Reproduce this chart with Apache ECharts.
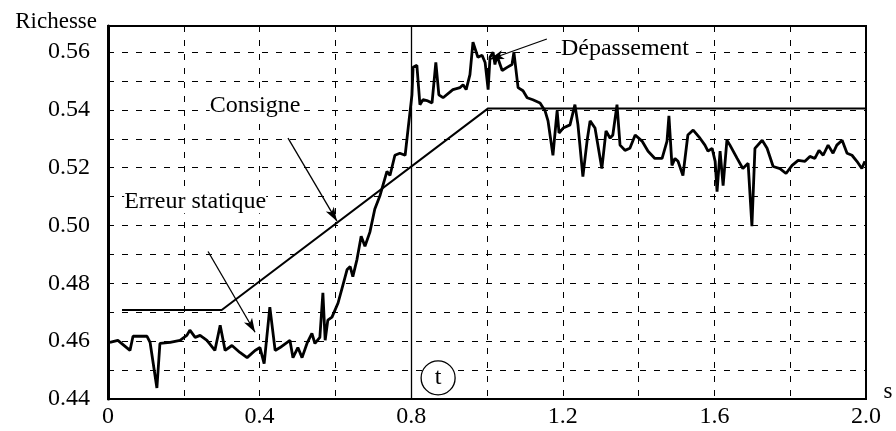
<!DOCTYPE html>
<html><head><meta charset="utf-8">
<script src="https://cdn.jsdelivr.net/npm/echarts@6/dist/echarts.min.js"></script>
<style>html,body{margin:0;padding:0;background:#fff}#c{width:896px;height:431px}</style>
</head><body><div id="c"></div>
<script>
// Time (s) and measured richness
const time = [0.005,0.026,0.058,0.066,0.103,0.111,0.129,0.137,0.164,0.190,0.208,0.216,0.230,0.243,0.261,0.282,0.296,0.309,0.327,0.348,0.367,0.388,0.401,0.412,0.427,0.441,0.454,0.480,0.488,0.501,0.512,0.525,0.538,0.546,0.559,0.567,0.573,0.580,0.591,0.607,0.620,0.631,0.639,0.646,0.657,0.668,0.678,0.691,0.704,0.718,0.736,0.744,0.757,0.770,0.784,0.792,0.802,0.805,0.815,0.823,0.831,0.844,0.855,0.865,0.873,0.884,0.910,0.929,0.937,0.945,0.955,0.963,0.976,0.987,0.995,1.003,1.008,1.016,1.021,1.026,1.040,1.053,1.066,1.071,1.082,1.095,1.106,1.121,1.140,1.153,1.161,1.174,1.185,1.190,1.201,1.219,1.232,1.240,1.253,1.264,1.272,1.285,1.303,1.314,1.325,1.332,1.343,1.351,1.364,1.377,1.391,1.409,1.425,1.443,1.462,1.475,1.480,1.488,1.496,1.504,1.517,1.530,1.544,1.562,1.575,1.583,1.594,1.602,1.607,1.615,1.623,1.633,1.641,1.660,1.675,1.689,1.699,1.707,1.726,1.739,1.755,1.773,1.789,1.805,1.821,1.839,1.852,1.865,1.876,1.887,1.900,1.913,1.923,1.937,1.950,1.963,1.976,1.989,1.997];
const richesse = [0.4596,0.4603,0.4568,0.4617,0.4617,0.4596,0.4438,0.4592,0.4596,0.4603,0.4620,0.4638,0.4613,0.4620,0.4603,0.4568,0.4655,0.4568,0.4585,0.4561,0.4543,0.4568,0.4578,0.4522,0.4718,0.4568,0.4578,0.4603,0.4543,0.4578,0.4543,0.4592,0.4627,0.4592,0.4613,0.4767,0.4603,0.4673,0.4683,0.4732,0.4795,0.4848,0.4858,0.4823,0.4883,0.4963,0.4928,0.4977,0.5057,0.5105,0.5187,0.5173,0.5243,0.5250,0.5243,0.5337,0.5452,0.5547,0.5554,0.5418,0.5435,0.5431,0.5424,0.5564,0.5452,0.5442,0.5470,0.5477,0.5487,0.5470,0.5522,0.5634,0.5582,0.5589,0.5564,0.5470,0.5582,0.5599,0.5557,0.5589,0.5536,0.5547,0.5557,0.5599,0.5477,0.5466,0.5442,0.5435,0.5424,0.5397,0.5362,0.5243,0.5397,0.5320,0.5337,0.5348,0.5418,0.5348,0.5169,0.5292,0.5362,0.5337,0.5197,0.5327,0.5302,0.5313,0.5418,0.5278,0.5260,0.5267,0.5313,0.5292,0.5257,0.5232,0.5232,0.5292,0.5379,0.5208,0.5232,0.5222,0.5173,0.5313,0.5330,0.5302,0.5278,0.5257,0.5267,0.5222,0.5117,0.5257,0.5138,0.5295,0.5278,0.5232,0.5197,0.5215,0.4998,0.5267,0.5295,0.5267,0.5204,0.5197,0.5180,0.5208,0.5225,0.5222,0.5239,0.5232,0.5260,0.5243,0.5278,0.5250,0.5278,0.5295,0.5250,0.5243,0.5222,0.5197,0.5222];
// Set point (consigne)
const consigneTime = [0.037, 0.30, 1.003, 2.0];
const consigneValue = [0.4708, 0.4708, 0.5405, 0.5405];
// Axis ticks
const xTickLabels = ['0','0.4','0.8','1.2','1.6','2.0'];
const yTickLabels = ['0.44','0.46','0.48','0.50','0.52','0.54','0.56'];
// Annotations (data coordinates)
const annotationTexts = ['Consigne','Erreur statique','Dépassement'];
const annotationPos = [[0.388,0.5414],[0.230,0.5084],[1.364,0.5610]];
const arrowFrom = [[0.475,0.5302],[0.264,0.4910],[1.158,0.5645]];
const arrowTo = [[0.604,0.5015],[0.388,0.4631],[1.008,0.5575]];
const markerT = [0.871, 0.4473];

const FONT = '"Liberation Serif","DejaVu Serif",serif';
const chart = echarts.init(document.getElementById('c'));
const measured = time.map((t,i)=>[t, richesse[i]]);
const consigne = consigneTime.map((t,i)=>[t, consigneValue[i]]);
const arrows = arrowFrom.map((f,i)=>[
  {coord:f, symbol:'none'},
  {coord:arrowTo[i], symbol:'arrow', symbolSize:[7,14]}
]);

chart.setOption({
  animation:false,
  backgroundColor:'#fff',
  grid:{left:108,right:30,top:26,bottom:32,show:true,borderColor:'#000',borderWidth:2,backgroundColor:'transparent'},
  xAxis:{type:'value',min:0,max:2,interval:0.2,
    axisLine:{show:true,lineStyle:{color:'#000',width:2}},
    axisTick:{show:false},
    axisLabel:{color:'#000',fontFamily:FONT,fontSize:24,margin:6,
      formatter:v=>{const k=Math.round(v*10); return k%4===0 ? xTickLabels[k/4] : '';}},
    splitLine:{show:true,lineStyle:{color:'#000',width:1,type:[6,8]}}},
  yAxis:{type:'value',min:0.44,max:0.569,interval:0.01,
    axisLine:{show:true,lineStyle:{color:'#000',width:3}},
    axisTick:{show:false},
    axisLabel:{color:'#000',fontFamily:FONT,fontSize:24,margin:18,
      formatter:v=>{const k=Math.round((v-0.44)*100); if(Math.abs((v-0.44)*100-k)>0.01) return ''; return k%2===0 ? yTickLabels[k/2] : '';}},
    splitLine:{show:true,lineStyle:{color:'#000',width:1,type:[6,8]}}},
  series:[
    {type:'line',data:consigne,symbol:'none',lineStyle:{color:'#000',width:2},z:3,silent:true,
     markLine:{silent:true,animation:false,label:{show:false},
       lineStyle:{color:'#000',width:1.3,type:'solid'},
       data:arrows.concat([[{coord:[0.8,0.44],symbol:'none'},{coord:[0.8,0.569],symbol:'none'}]])}},
    {type:'line',data:measured,symbol:'none',lineStyle:{color:'#000',width:2.8},z:4,silent:true}
  ]
});

function place(){
  const g = [];
  annotationTexts.forEach((txt,i)=>{
    const p = chart.convertToPixel({gridIndex:0}, annotationPos[i]);
    g.push({type:'text',x:p[0],y:p[1],style:{text:txt,fill:'#000',font:'24px '+FONT,align:'center',verticalAlign:'middle',backgroundColor:'#fff'},z:10});
  });
  const c = chart.convertToPixel({gridIndex:0}, markerT);
  g.push({type:'circle',shape:{cx:c[0],cy:c[1],r:17},style:{fill:'#fff',stroke:'#000',lineWidth:1.3},z:10});
  g.push({type:'text',x:c[0],y:c[1],style:{text:'t',fill:'#000',font:'24px '+FONT,align:'center',verticalAlign:'middle'},z:11});
  g.push({type:'text',x:97,y:22,style:{text:'Richesse',fill:'#000',font:'23px '+FONT,align:'right',verticalAlign:'middle'}});
  g.push({type:'text',x:888,y:392,style:{text:'s',fill:'#000',font:'23px '+FONT,align:'center',verticalAlign:'middle'},z:12});
  chart.setOption({graphic:g});
}
place();
</script></body></html>
